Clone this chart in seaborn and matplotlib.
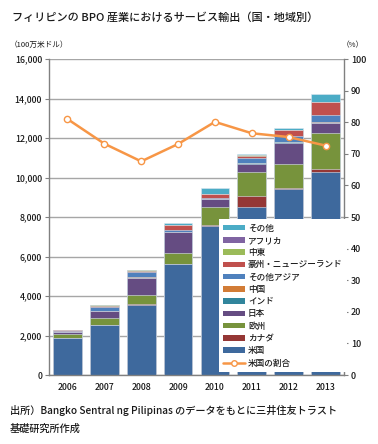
import numpy as np
import pandas as pd
import matplotlib
matplotlib.use("Agg")
import matplotlib.pyplot as plt
import seaborn as sns
from matplotlib.patches import Patch
from matplotlib.lines import Line2D
from matplotlib.ticker import FuncFormatter, MultipleLocator

# ---- data (100万米ドル), stacked from bottom ----
years = ["2006", "2007", "2008", "2009", "2010", "2011", "2012", "2013"]
us = [1850, 2520, 3550, 5620, 7560, 8500, 9400, 10290]
canada = [10, 15, 20, 20, 30, 580, 80, 120]
europe = [220, 350, 500, 560, 940, 1210, 1190, 1840]
japan = [80, 335, 850, 1040, 360, 405, 1100, 505]
india = [5, 10, 10, 10, 10, 15, 15, 20]
china = [5, 10, 10, 10, 10, 15, 15, 20]
other_asia = [70, 220, 270, 90, 50, 285, 300, 370]
aus_nz = [30, 50, 80, 250, 200, 90, 300, 640]
middle_east = [5, 10, 10, 10, 10, 15, 15, 20]
africa = [5, 10, 10, 10, 10, 15, 15, 20]
others = [10, 20, 20, 90, 290, 60, 85, 370]
us_share = [81.0, 73.2, 67.6, 73.1, 80.1, 76.5, 75.3, 72.6]  # %

series_names = ["米国", "カナダ", "欧州", "日本", "インド", "中国",
                "その他アジア", "豪州・ニュージーランド", "中東", "アフリカ", "その他"]
series_vals = [us, canada, europe, japan, india, china,
               other_asia, aus_nz, middle_east, africa, others]
series_colors = ["#3E699D", "#953735", "#77933C", "#654C82", "#31859C", "#D27C36",
                 "#4F81BD", "#C0504D", "#9BBB59", "#8064A2", "#4BACC6"]
line_color = "#F79646"
text_color = "#1A1A1A"

sns.set_theme(style="white")
plt.rcParams["font.family"] = ["Noto Sans CJK JP", "DejaVu Sans"]
plt.rcParams["text.color"] = text_color

df = pd.DataFrame(dict(zip(series_names, series_vals)), index=years)
cum = df.cumsum(axis=1)

fig = plt.figure(figsize=(3.78, 4.44), dpi=100)
ax = fig.add_axes([49 / 378, 1 - 375 / 444, 295 / 378, 316 / 444])

# stacked bars: draw cumulative totals from the top layer down
for name, color in reversed(list(zip(series_names, series_colors))):
    sns.barplot(x=years, y=cum[name].values, color=color, width=0.78,
                saturation=1, edgecolor="#DCE6F0", linewidth=0.4, ax=ax, zorder=2)

ax.set_ylim(0, 16000)
ax.set_xlim(-0.5, 7.5)
ax.yaxis.set_major_locator(MultipleLocator(2000))
ax.yaxis.set_major_formatter(FuncFormatter(lambda v, p: f"{int(v):,}"))
ax.grid(axis="y", color="#A6A6A6", linewidth=1.0, zorder=0)
ax.set_axisbelow(True)
ax.set_xlabel("")
ax.set_ylabel("")
for s in ["top", "right"]:
    ax.spines[s].set_visible(False)
for s in ["left", "bottom"]:
    ax.spines[s].set_color("#808080")
    ax.spines[s].set_linewidth(1.0)
ax.tick_params(axis="y", length=3, width=0.8, color="#808080", labelsize=6.3,
               labelcolor=text_color, pad=2)
ax.tick_params(axis="x", which="major", length=0, labelsize=6.3,
               labelcolor=text_color, pad=6)
ax.set_xticks(np.arange(-0.5, 8, 1), minor=True)
ax.tick_params(axis="x", which="minor", length=3, width=0.8, color="#808080")
for lbl in ax.get_xticklabels() + ax.get_yticklabels():
    lbl.set_fontweight("medium")

# US share line on right axis
ax2 = ax.twinx()
sns.lineplot(x=np.arange(len(years)), y=us_share, color=line_color, linewidth=1.8,
             marker="o", markersize=4.5, markerfacecolor="white",
             markeredgecolor=line_color, markeredgewidth=1.0, ax=ax2, zorder=3)
ax2.set_ylim(0, 100)
ax2.yaxis.set_major_locator(MultipleLocator(10))
ax2.set_xlim(-0.5, 7.5)
for s in ["top", "left", "bottom"]:
    ax2.spines[s].set_visible(False)
ax2.spines["right"].set_color("#808080")
ax2.spines["right"].set_linewidth(1.0)
ax2.tick_params(axis="y", length=3, width=0.8, color="#808080", labelsize=6.5,
                labelcolor=text_color, pad=2)
for lbl in ax2.get_yticklabels():
    lbl.set_fontweight("medium")

handles = [Patch(facecolor=c, edgecolor="none", label=n)
           for n, c in zip(reversed(series_names), reversed(series_colors))]
handles.append(Line2D([0], [0], color=line_color, lw=1.8, marker="o", markersize=4,
                      markerfacecolor="white", markeredgecolor=line_color,
                      label="米国の割合"))
leg = ax2.legend(handles=handles, loc="lower left", bbox_to_anchor=(0.575, 0.01),
                 fontsize=6.2, frameon=True, fancybox=False, framealpha=1,
                 edgecolor="white", handlelength=2.6, handleheight=0.6,
                 labelspacing=0.38, borderpad=0.5, handletextpad=0.3,
                 borderaxespad=0)
leg.get_frame().set_linewidth(0)
for t in leg.get_texts():
    t.set_fontweight("medium")

# texts
fig.text(12 / 378, 1 - 17 / 444, "フィリピンの BPO 産業におけるサービス輸出（国・地域別）",
         fontsize=8, va="center", ha="left", fontweight="medium")
fig.text(10 / 378, 1 - 45 / 444, "（100万米ドル）", fontsize=5.5, va="center", ha="left")
fig.text(364 / 378, 1 - 45 / 444, "（%）", fontsize=5.5, va="center", ha="right")
fig.text(10 / 378, 1 - 410 / 444,
         "出所）Bangko Sentral ng Pilipinas のデータをもとに三井住友トラスト",
         fontsize=7.3, va="center", ha="left", fontweight="medium")
fig.text(10 / 378, 1 - 429 / 444, "基礎研究所作成", fontsize=7.3, va="center",
         ha="left", fontweight="medium")

fig.savefig("out.png", dpi=100)
